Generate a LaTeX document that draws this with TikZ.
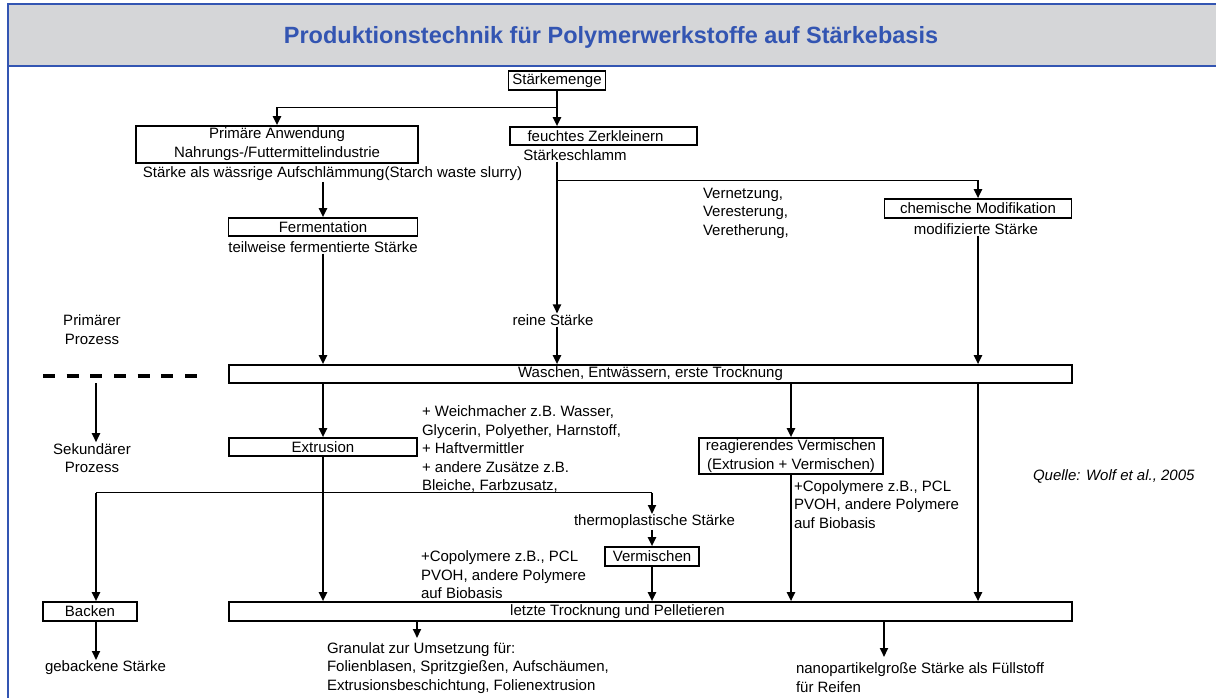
\documentclass[tikz,border=0pt]{standalone}
\usepackage{fontspec}
\setmainfont{Liberation Sans}
\usepackage{tikz}
\usetikzlibrary{arrows.meta}

\definecolor{kopfgrau}{RGB}{213,214,216}
\definecolor{kopfblau}{RGB}{51,85,178}
\newcommand{\normtext}{\fontsize{15}{18.5}\selectfont}

\begin{document}
\begin{tikzpicture}[x=1pt,y=-1pt,>={Triangle[length=9pt,width=8pt]},line width=2pt,
  every node/.style={inner sep=0pt,font=\normtext}]

  \tikzstyle{kasten}=[draw,line width=1.6pt,minimum height=18pt]
  \tikzstyle{duenn}=[line width=1pt]

  \useasboundingbox (0,0) rectangle (1216,698);

  % Kopfzeile
  \fill[kopfgrau] (8,4) rectangle (1216,66);
  \draw[kopfblau,line width=2pt] (1216,4) -- (8,4) -- (8,698) (8,66) -- (1216,66);
  \node[font=\fontsize{23.5}{26}\selectfont\bfseries,text=kopfblau] (titel) at (611,37) {Produktionstechnik für Polymerwerkstoffe auf Stärkebasis};

  % primaerer Prozess
  \node[kasten,minimum width=97pt,minimum height=19pt] (menge) at (557,80.5) {Stärkemenge};
  \node[kasten,minimum width=282pt,minimum height=37pt,align=center,font=\fontsize{15}{19}\selectfont] (primaer) at (277,144.5) {Primäre Anwendung\\Nahrungs-/Futtermittelindustrie};
  \node[kasten,minimum width=187pt] (zerk) at (603.5,136) {\hspace*{-16pt}feuchtes Zerkleinern};
  \node (schlamm) at (575,155) {Stärkeschlamm};
  \node (slurry) at (332.5,174) {Stärke als wässrige Aufschlämmung(Starch waste slurry)};
  \node[kasten,minimum width=189pt] (ferm) at (323,227) {Fermentation};
  \node (fermtext) at (323,247) {teilweise fermentierte Stärke};
  \node[anchor=west,align=left] (verfahren) at (702,213) {Vernetzung,\\Veresterung,\\Veretherung,};
  \node[kasten,minimum width=187pt,minimum height=19pt] (chem) at (978,208.5) {chemische Modifikation};
  \node (modtext) at (976,229) {modifizierte Stärke};
  \node (rein) at (553,320) {reine Stärke};
  \node[align=center] (primproz) at (92,329.5) {Primärer\\Prozess};
  \node[kasten,minimum width=843pt] (waschen) at (650.5,374) {Waschen, Entwässern, erste Trocknung};

  % sekundaerer Prozess
  \node[align=center] (sekproz) at (92,458) {Sekundärer\\Prozess};
  \node[kasten,minimum width=188pt] (extr) at (323,447) {Extrusion};
  \node[anchor=west,align=left] (zusatz) at (421,449.5) {+ Weichmacher z.B. Wasser,\\Glycerin, Polyether, Harnstoff,\\+ Haftvermittler\\+ andere Zusätze z.B.\\Bleiche, Farbzusatz,};
  \node[kasten,minimum width=184pt,minimum height=36pt,align=center] (reag) at (791,456) {reagierendes Vermischen\\(Extrusion + Vermischen)};
  \node[anchor=west,font=\normtext\itshape] (quelle) at (1032,476) {Quelle: Wolf et al., 2005};
  \node[anchor=west,align=left] (copoly1) at (793,504.5) {+Copolymere z.B., PCL\\PVOH, andere Polymere\\auf Biobasis};
  \node (thermo) at (654.5,522) {thermoplastische Stärke};
  \node[kasten,minimum width=94pt,minimum height=19pt] (verm) at (652,556.5) {Vermischen};
  \node[anchor=west,align=left] (copoly2) at (420,575) {+Copolymere z.B., PCL\\PVOH, andere Polymere\\auf Biobasis};
  \node[kasten,minimum width=94pt,minimum height=19pt] (backen) at (90,611.5) {Backen};
  \node[kasten,minimum width=843pt,minimum height=19pt] (letzte) at (650.5,611.5) {\hspace*{-66pt}letzte Trocknung und Pelletieren};
  \node[anchor=west] (gebacken) at (44,668) {gebackene Stärke};
  \node[anchor=west,align=left] (granulat) at (326,668) {Granulat zur Umsetzung für:\\Folienblasen, Spritzgießen, Aufschäumen,\\Extrusionsbeschichtung, Folienextrusion};
  \node[anchor=west,align=left] (nano) at (795,677.5) {nanopartikelgroße Stärke als Füllstoff\\für Reifen};

  \coordinate (abzw1) at (557,107.5);
  \coordinate (abzw2) at (557,180.5);
  \coordinate (abzw3) at (323,492.5);
  \coordinate (trenn) at (96,383);
  \coordinate (aus1) at (417,638);
  \coordinate (aus2) at (884,657);

  % Trennlinie
  \draw[line width=4pt,dash pattern=on 12pt off 11.67pt] (43,376) -- (197,376);

  \draw[->] (menge.south) -- (menge.south |- zerk.north);
  \draw[duenn] (abzw1) -- (abzw1 -| primaer.north);
  \draw[->] (abzw1 -| primaer.north) -- (primaer.north);
  \draw[->] (slurry.south -| ferm.north) -- (ferm.north);
  \draw[->] (fermtext.south) -- (fermtext.south |- waschen.north);
  \draw[->] (schlamm.south -| menge.south) -- (rein.north -| menge.south);
  \draw[->] (rein.south -| menge.south) -- (waschen.north -| menge.south);
  \draw[duenn] (abzw2) -- (abzw2 -| chem.north);
  \draw[->] (abzw2 -| chem.north) -- (chem.north);
  \draw[->] (modtext.south -| chem.north) -- (waschen.north -| chem.north);
  \draw[->] (trenn) -- (trenn |- sekproz.north);

  \draw[->] (waschen.south -| extr.north) -- (extr.north);
  \draw[->] (waschen.south -| reag.north) -- (reag.north);
  \draw[->] (waschen.south -| chem.north) -- (letzte.north -| chem.north);
  \draw[->] (extr.south) -- (extr.south |- letzte.north);
  \draw[duenn] (abzw3 -| trenn) -- (abzw3 -| verm.north);
  \draw[->] (abzw3 -| trenn) -- (backen.north -| trenn);
  \draw[->] (abzw3 -| verm.north) -- (thermo.north -| verm.north);
  \draw[->] (thermo.south -| verm.north) -- (verm.north);
  \draw[->] (verm.south) -- (verm.south |- letzte.north);
  \draw[->] (reag.south) -- (reag.south |- letzte.north);
  \draw[->] (backen.south -| trenn) -- (gebacken.north -| trenn);
  \draw[->] (letzte.south -| aus1) -- (aus1);
  \draw[->] (letzte.south -| aus2) -- (aus2);

\end{tikzpicture}
\end{document}
